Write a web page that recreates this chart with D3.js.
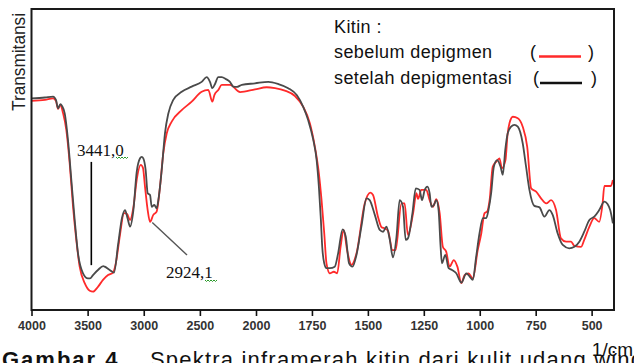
<!DOCTYPE html>
<html>
<head>
<meta charset="utf-8">
<script src="https://cdn.jsdelivr.net/npm/d3@7/dist/d3.min.js"></script>
<style>
  body { margin: 0; background: #fff; }
  svg { display: block; font-family: Arial, "Liberation Sans", sans-serif; }
</style>
</head>
<body>
<svg id="mainsvg" width="634" height="363"></svg>
<script>
// wavenumber (1/cm), transmittance (%)
var sebelum = [
  [4000, 69.5], [3880, 69.8], [3808, 70.3], [3782, 69.4], [3764, 66.8], [3743, 68.1],
  [3719, 65.4], [3690, 59.8], [3660, 48.8], [3630, 34.3], [3601, 23.3], [3571, 14.4],
  [3526, 8.9], [3481, 6.4], [3452, 6.1], [3408, 7.7], [3363, 10.0], [3318, 11.6],
  [3274, 12.4], [3247, 15.9], [3212, 24.9], [3176, 32.2], [3149, 31.9], [3122, 29.9],
  [3093, 33.9], [3060, 43.9], [3027, 48.2], [3007, 47.2], [2989, 41.0], [2965, 33.2],
  [2944, 29.3], [2915, 31.6], [2885, 32.7], [2855, 41.0], [2826, 52.1], [2795, 58.7],
  [2751, 62.6], [2662, 66.4], [2573, 69.2], [2484, 72.5], [2425, 73.1], [2389, 69.2],
  [2371, 71.4], [2336, 73.1], [2305, 74.8], [2232, 74.8], [2142, 72.4], [2009, 73.3],
  [1952, 74.0], [1915, 73.7], [1871, 72.9], [1826, 71.1], [1789, 67.5], [1759, 62.0],
  [1737, 54.3], [1719, 45.4], [1707, 36.5], [1695, 25.5], [1685, 15.5], [1670, 12.2],
  [1652, 12.7], [1637, 12.2], [1622, 21.0], [1608, 26.6], [1593, 19.9], [1573, 15.0],
  [1551, 18.8], [1514, 35.4], [1489, 39.0], [1477, 38.2], [1455, 31.0], [1439, 27.5],
  [1425, 27.1], [1410, 26.3], [1390, 19.9], [1376, 19.9], [1350, 35.4], [1336, 35.4],
  [1321, 24.9], [1298, 32.1], [1283, 38.8], [1276, 36.9], [1261, 39.9], [1239, 39.9],
  [1224, 36.5], [1209, 34.3], [1194, 36.8], [1179, 32.1], [1165, 21.0], [1150, 19.4],
  [1135, 14.4], [1116, 16.6], [1100, 14.4], [1082, 8.9], [1068, 11.6], [1050, 12.2],
  [1031, 10.5], [1009, 19.9], [993, 25.5], [979, 32.1], [967, 32.7], [956, 36.5],
  [942, 47.6], [926, 49.3], [912, 50.4], [901, 47.1], [885, 49.8], [876, 58.1],
  [867, 62.1], [852, 64.2], [830, 63.7], [808, 60.9], [788, 54.3], [770, 40.4],
  [748, 39.3], [726, 37.1], [703, 35.4], [681, 36.5], [659, 33.2], [637, 23.8],
  [614, 22.7], [592, 22.7], [577, 21.3], [547, 21.0], [533, 23.3], [510, 27.7],
  [488, 30.5], [466, 29.3], [451, 35.4], [443, 41.2], [414, 41.2], [405, 43.2]
];

var setelah = [
  [4000, 70.3], [3880, 70.6], [3808, 70.9], [3782, 69.8], [3764, 67.0], [3743, 68.4],
  [3728, 67.8], [3704, 65.3], [3675, 56.5], [3645, 43.2], [3615, 29.9], [3586, 18.9],
  [3541, 12.2], [3497, 10.5], [3479, 10.5], [3452, 11.6], [3408, 13.3], [3360, 14.6],
  [3348, 14.4], [3303, 13.3], [3265, 12.4], [3229, 21.6], [3194, 30.6], [3167, 33.2],
  [3145, 30.6], [3122, 27.7], [3093, 32.9], [3063, 45.8], [3033, 50.4], [3018, 50.9],
  [3004, 50.4], [2983, 46.5], [2965, 38.8], [2944, 38.2], [2929, 34.3], [2906, 34.9],
  [2885, 33.8], [2870, 36.5], [2840, 46.5], [2811, 58.7], [2781, 65.3], [2737, 69.8],
  [2662, 72.5], [2573, 74.2], [2484, 75.8], [2439, 77.4], [2410, 75.8], [2389, 73.7],
  [2365, 75.1], [2336, 77.4], [2305, 77.4], [2267, 76.7], [2232, 75.8], [2202, 74.2],
  [2172, 74.1], [2127, 74.8], [2009, 75.3], [1945, 75.8], [1901, 75.1], [1856, 73.7],
  [1818, 71.4], [1789, 67.5], [1767, 63.1], [1744, 56.5], [1729, 49.8], [1719, 41.0],
  [1710, 29.9], [1704, 21.0], [1695, 15.5], [1685, 13.9], [1670, 13.9], [1648, 14.4],
  [1633, 18.8], [1613, 26.8], [1599, 24.4], [1584, 15.5], [1569, 14.4], [1551, 18.3],
  [1529, 27.7], [1506, 37.1], [1492, 36.5], [1469, 31.6], [1447, 26.6], [1432, 26.0],
  [1417, 27.7], [1402, 23.3], [1388, 17.5], [1372, 24.4], [1358, 36.5], [1343, 34.3],
  [1331, 23.3], [1321, 23.8], [1301, 32.1], [1286, 40.4], [1269, 39.9], [1258, 36.5],
  [1246, 39.9], [1234, 41.0], [1224, 38.8], [1216, 34.3], [1205, 34.9], [1194, 36.5],
  [1184, 33.2], [1175, 21.0], [1169, 15.5], [1154, 18.3], [1139, 13.9], [1124, 13.3],
  [1105, 12.2], [1082, 9.1], [1060, 12.2], [1045, 11.1], [1031, 10.0], [1016, 17.7],
  [1001, 25.5], [986, 30.5], [971, 30.5], [961, 33.2], [949, 38.8], [937, 47.6],
  [922, 49.8], [907, 47.6], [897, 44.9], [886, 53.2], [875, 58.7], [860, 60.9],
  [845, 61.5], [830, 60.9], [808, 55.4], [793, 47.6], [778, 39.9], [756, 34.6],
  [733, 34.1], [711, 31.0], [689, 33.2], [674, 31.6], [652, 25.5], [629, 21.6],
  [600, 20.5], [577, 21.0], [555, 22.7], [533, 26.0], [510, 29.9], [488, 31.0],
  [466, 33.2], [443, 36.0], [429, 35.2], [417, 33.2], [405, 28.8]
];

var xTicks = [4000, 3500, 3000, 2500, 2000, 1750, 1500, 1250, 1000, 750, 500];
var legendLabels = ["sebelum depigmen", "setelah depigmentasi"];
// peak label, line from t to t0 at the given wavenumber
var peakLabels = [
  { text: "3441,0", wn: 3467, t: 49.2, t0: 14.9 },
  { text: "2924,1", wn: 2924, t: 29.1, t0: 18.1 }
];

var plotLeft = 31.5,
  plotRight = 614,
  plotTop = 9,
  plotBottom = 310;

// the spectrometer plot doubles its scale below 2000 1/cm
var x = d3.scaleLinear().domain([4000, 2000, 400]).range([plotLeft, 256, plotRight]);
var y = d3.scaleLinear().domain([0, 100]).range([plotBottom, plotTop]);

var svg = d3.select("#mainsvg");
svg.append("rect").attr("width", 634).attr("height", 363).attr("fill", "#fff");

svg
  .append("defs")
  .append("clipPath")
  .attr("id", "plotclip")
  .append("rect")
  .attr("x", plotLeft)
  .attr("y", plotTop)
  .attr("width", plotRight - plotLeft)
  .attr("height", plotBottom - plotTop);

var line = d3
  .line()
  .x(function (d) { return x(d[0]); })
  .y(function (d) { return y(d[1]); })
  .curve(d3.curveMonotoneX);

var curves = svg.append("g").attr("clip-path", "url(#plotclip)");
curves
  .append("path")
  .datum(sebelum)
  .attr("d", line)
  .attr("fill", "none")
  .attr("stroke", "#ff2a2a")
  .attr("stroke-width", 1.8);
curves
  .append("path")
  .datum(setelah)
  .attr("d", line)
  .attr("fill", "none")
  .attr("stroke", "#4a4a4a")
  .attr("stroke-width", 1.8);

// frame
svg
  .append("rect")
  .attr("x", plotLeft)
  .attr("y", plotTop)
  .attr("width", plotRight - plotLeft)
  .attr("height", plotBottom - plotTop)
  .attr("fill", "none")
  .attr("stroke", "#1a1a1a")
  .attr("stroke-width", 2);

var xAxis = svg
  .append("g")
  .attr("transform", "translate(0," + plotBottom + ")")
  .call(d3.axisBottom(x).tickValues(xTicks).tickSize(6).tickPadding(5).tickFormat(d3.format("d")));
xAxis.select(".domain").remove();
xAxis.selectAll(".tick line").attr("stroke", "#111").attr("stroke-width", 1.6);
xAxis
  .selectAll(".tick text")
  .attr("fill", "#333")
  .style("font-size", "12.5px")
  .style("font-weight", "bold")
  .style("font-family", "Arial, 'Liberation Sans', sans-serif");

svg
  .append("text")
  .attr("transform", "translate(25,62) rotate(-90)")
  .attr("text-anchor", "middle")
  .attr("textLength", 98)
  .attr("lengthAdjust", "spacingAndGlyphs")
  .attr("fill", "#222")
  .style("font-size", "19px")
  .text("Transmitansi");

svg
  .append("text")
  .attr("x", 633)
  .attr("y", 356)
  .attr("text-anchor", "end")
  .attr("fill", "#111")
  .style("font-size", "19px")
  .text("1/cm");

// legend
var legend = svg.append("g").attr("fill", "#111").style("font-size", "18px").style("letter-spacing", "0.4px");
legend.append("text").attr("x", 334).attr("y", 33).text("Kitin :");
var legendColors = ["#ff2a2a", "#111"];
legendLabels.forEach(function (label, i) {
  var by = 57.5 + i * 26.5;
  legend.append("text").attr("x", 334).attr("y", by).text(label);
  legend.append("text").attr("x", 530 + i * 3).attr("y", by).text("(");
  legend.append("text").attr("x", 588 + i * 3).attr("y", by).text(")");
  legend
    .append("line")
    .attr("x1", 539 + i)
    .attr("x2", 581 + i)
    .attr("y1", by - 1)
    .attr("y2", by - 1)
    .attr("stroke", legendColors[i])
    .attr("stroke-width", 2.4);
});

// peak annotations
var ann = svg.append("g");
function squiggle(x0, y0, w) {
  var p = "M" + x0 + "," + y0;
  for (var k = 0; k < w; k += 3) {
    p += " L" + (x0 + k + 1.5) + "," + (y0 + 1.5) + " L" + (x0 + k + 3) + "," + y0;
  }
  return p;
}
var a0 = peakLabels[0];
ann
  .append("line")
  .attr("x1", x(a0.wn))
  .attr("x2", x(a0.wn))
  .attr("y1", y(a0.t))
  .attr("y2", y(a0.t0))
  .attr("stroke", "#000")
  .attr("stroke-width", 1.6);
ann
  .append("text")
  .attr("x", 77)
  .attr("y", 156)
  .attr("fill", "#111")
  .style("font-family", "'Liberation Serif', 'Times New Roman', serif")
  .style("font-size", "17px")
  .text(a0.text);
ann.append("path").attr("d", squiggle(116, 157, 12)).attr("fill", "none").attr("stroke", "#2a9a2a").attr("stroke-width", 1);

var a1 = peakLabels[1];
ann
  .append("line")
  .attr("x1", x(a1.wn))
  .attr("x2", 187)
  .attr("y1", y(a1.t))
  .attr("y2", 255)
  .attr("stroke", "#555")
  .attr("stroke-width", 1.4);
ann
  .append("text")
  .attr("x", 166)
  .attr("y", 277.5)
  .attr("fill", "#111")
  .style("font-family", "'Liberation Serif', 'Times New Roman', serif")
  .style("font-size", "17px")
  .text(a1.text);
ann.append("path").attr("d", squiggle(205, 280, 12)).attr("fill", "none").attr("stroke", "#2a9a2a").attr("stroke-width", 1);

// figure caption, cut off by the bottom edge
var cap = svg.append("text").attr("y", 367).attr("fill", "#111").style("font-size", "22px");
cap.append("tspan").attr("x", 2).style("font-weight", "bold").style("letter-spacing", "2px").text("Gambar 4.");
cap.append("tspan").attr("x", 150).style("letter-spacing", "1.2px").text("Spektra inframerah kitin dari kulit udang windu");
</script>
</body>
</html>
